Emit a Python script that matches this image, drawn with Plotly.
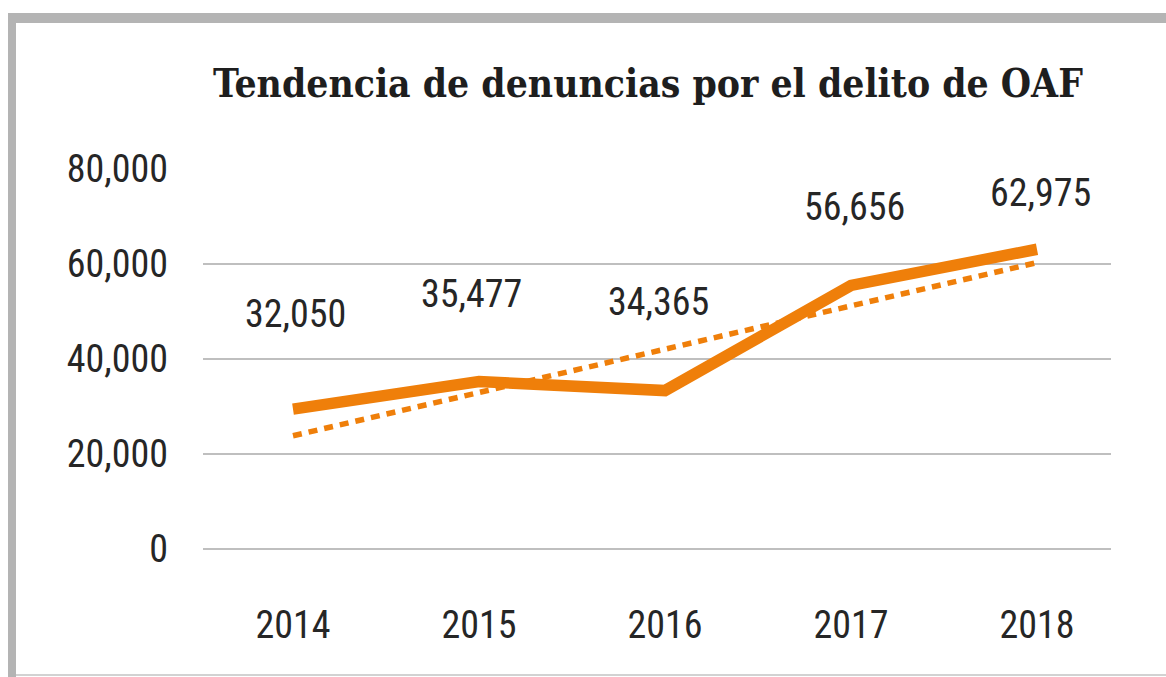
"""Tendencia de denuncias por el delito de OAF - line chart with trend."""
import plotly.graph_objects as go

# Data
years = [2014, 2015, 2016, 2017, 2018]
plotted_values = [29400, 35200, 33300, 55400, 63000]   # where the line is drawn
label_text = ['32,050', '35,477', '34,365', '56,656', '62,975']
trend_years = [2014, 2018]
trend_values = [23800, 60200]
y_ticks = [0, 20000, 40000, 60000, 80000]
y_tick_text = ['0', '20,000', '40,000', '60,000', '80,000']

# Style
ORANGE = '#EF7F0A'
TEXT = '#262626'
GRID = '#BFBFBF'
FRAME = '#B4B4B4'
NARROW = 'Roboto Condensed, DejaVu Sans Condensed, sans-serif'
SLAB = 'DejaVu Serif Condensed, DejaVu Serif, serif'

W, H = 1166, 677
L, R, T, B = 203, 1111, 168, 549   # plot area in pixels

# label nudges (px) relative to each point
label_dx = [2, -8, -7, 3, 3]
label_dy = [95, 88, 89, 78, 56]


def px(x):
    return (x - L) / (R - L)


def py(y):
    return (B - y) / (B - T)


fig = go.Figure()

# trend line (dotted)
fig.add_trace(go.Scatter(
    x=trend_years, y=trend_values, mode='lines',
    line=dict(color=ORANGE, width=5.5, dash='9px,7px'),
    hoverinfo='skip', showlegend=False
))

# main series
fig.add_trace(go.Scatter(
    x=years, y=plotted_values, mode='lines',
    line=dict(color=ORANGE, width=11.5),
    showlegend=False
))

for yr, v, t, dx, dy in zip(years, plotted_values, label_text, label_dx, label_dy):
    fig.add_annotation(
        x=yr, y=v, text=t, showarrow=False,
        xshift=dx, yshift=dy,
        font=dict(family=NARROW, size=38, color=TEXT)
    )

# title
fig.add_annotation(
    xref='paper', yref='paper', x=px(648), y=py(84),
    text='<b>Tendencia de denuncias por el delito de OAF</b>',
    showarrow=False, xanchor='center', yanchor='middle',
    font=dict(family=SLAB, size=38.7, color='#1E1E1E')
)

# grey frame (top, left, bottom edge)
frame = [
    dict(x0=px(8), x1=px(W), y0=py(13), y1=py(23), fill=FRAME),
    dict(x0=px(8), x1=px(16), y0=py(13), y1=py(H), fill=FRAME),
    dict(x0=px(16), x1=px(W), y0=py(674), y1=py(676), fill='#D2D2D2'),
]
for f in frame:
    fig.add_shape(type='rect', xref='paper', yref='paper',
                  x0=f['x0'], x1=f['x1'], y0=f['y0'], y1=f['y1'],
                  fillcolor=f['fill'], line=dict(width=0), layer='above')

fig.update_layout(
    width=W, height=H,
    paper_bgcolor='white', plot_bgcolor='white',
    margin=dict(l=L, r=W - R, t=T, b=H - B, pad=0),
    showlegend=False,
    xaxis=dict(
        range=[2014 - 90 / 186, 2018 + 74 / 186],
        tickmode='array', tickvals=years, ticktext=[str(y) for y in years],
        showgrid=False, zeroline=False, showline=False, ticks='',
        ticklabelstandoff=50,
        tickfont=dict(family=NARROW, size=38, color=TEXT)
    ),
    yaxis=dict(
        range=[0, 80080],
        tickmode='array', tickvals=y_ticks, ticktext=y_tick_text,
        showgrid=True, gridcolor=GRID, gridwidth=2,
        zeroline=True, zerolinecolor=GRID, zerolinewidth=2,
        showline=False, ticks='',
        ticklabelstandoff=34,
        tickfont=dict(family=NARROW, size=38, color=TEXT)
    ),
)

# drop the default page margin so the figure sits at the window corner
fig.write_html("out.html", config={'displayModeBar': False},
               post_script="document.body.style.margin='0';")
